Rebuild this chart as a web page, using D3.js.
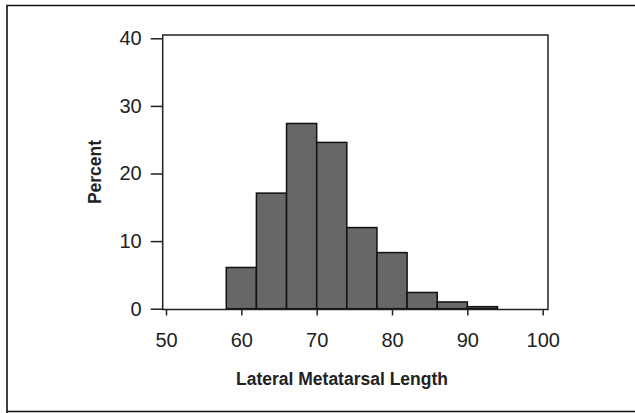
<!DOCTYPE html>
<html><head><meta charset="utf-8">
<script src="https://cdn.jsdelivr.net/npm/d3@7"></script>
<style>body{margin:0;background:#fff}svg{display:block}</style>
</head><body>
<script>
const binStarts = [58, 62, 66, 70, 74, 78, 82, 86, 90];
const binWidth = 4;
const percents = [6.1, 17.1, 27.4, 24.6, 12.0, 8.3, 2.4, 1.0, 0.3];
const xTicks = [50, 60, 70, 80, 90, 100];
const yTicks = [0, 10, 20, 30, 40];
const xTitle = "Lateral Metatarsal Length";
const yTitle = "Percent";

const W = 635, H = 413;
const svg = d3.select("body").append("svg").attr("width", W).attr("height", H);

// outer border
svg.append("path").attr("d", `M7,${H+2} L7,5.5 L${W+2},5.5`).attr("fill","none").attr("stroke","#111").attr("stroke-width",1.6);
svg.append("line").attr("x1",7).attr("x2",W+2).attr("y1",411.5).attr("y2",411.5).attr("stroke","#111").attr("stroke-width",1.6);

const fx0 = 162.7, fx1 = 548, fy0 = 35, fy1 = 309.5;
const x = d3.scaleLinear().domain([50, 100]).range([166, 542.7]);
const y = d3.scaleLinear().domain([0, 40]).range([308.7, 38.3]);

const g = svg.append("g");
g.selectAll("rect.bar").data(binStarts).join("rect")
  .attr("class","bar")
  .attr("x", d => x(d)).attr("width", d => x(d + binWidth) - x(d))
  .attr("y", (d,i) => y(percents[i])).attr("height", (d,i) => y(0) - y(percents[i]))
  .attr("fill", "#676767").attr("stroke", "#111").attr("stroke-width", 1.5);

// frame
svg.append("rect").attr("x", fx0).attr("y", fy0).attr("width", fx1 - fx0).attr("height", fy1 - fy0)
  .attr("fill","none").attr("stroke","#222").attr("stroke-width",1.5);

const font = "'Liberation Sans', Arial, sans-serif";
const xAxis = svg.append("g").attr("transform", `translate(0,${fy1})`)
  .call(d3.axisBottom(x).tickValues(xTicks).tickSize(6).tickPadding(31).tickFormat(d3.format("d")));
xAxis.attr("font-size", null).attr("font-family", null);
xAxis.select(".domain").remove();
xAxis.selectAll("line").attr("stroke","#222").attr("stroke-width",1.5);
xAxis.selectAll("text").attr("dy", null).style("font-family", font).style("font-size", "20px").attr("fill","#222");

const yAxis = svg.append("g").attr("transform", `translate(${fx0},0)`)
  .call(d3.axisLeft(y).tickValues(yTicks).tickSize(12).tickPadding(9).tickFormat(d3.format("d")));
yAxis.attr("font-size", null).attr("font-family", null);
yAxis.select(".domain").remove();
yAxis.selectAll("line").attr("stroke","#222").attr("stroke-width",1.5);
yAxis.selectAll("text").style("font-family", font).style("font-size", "20px").attr("fill","#222");

svg.append("text").attr("x", 342).attr("y", 385).attr("text-anchor","middle")
  .style("font-family", font).attr("font-weight","bold").style("font-size", "17.5px").attr("fill","#222").text(xTitle);
svg.append("text").attr("transform", "translate(101,172) rotate(-90)").attr("text-anchor","middle")
  .style("font-family", font).attr("font-weight","bold").style("font-size", "17.5px").attr("fill","#222").text(yTitle);
</script>
</body></html>
